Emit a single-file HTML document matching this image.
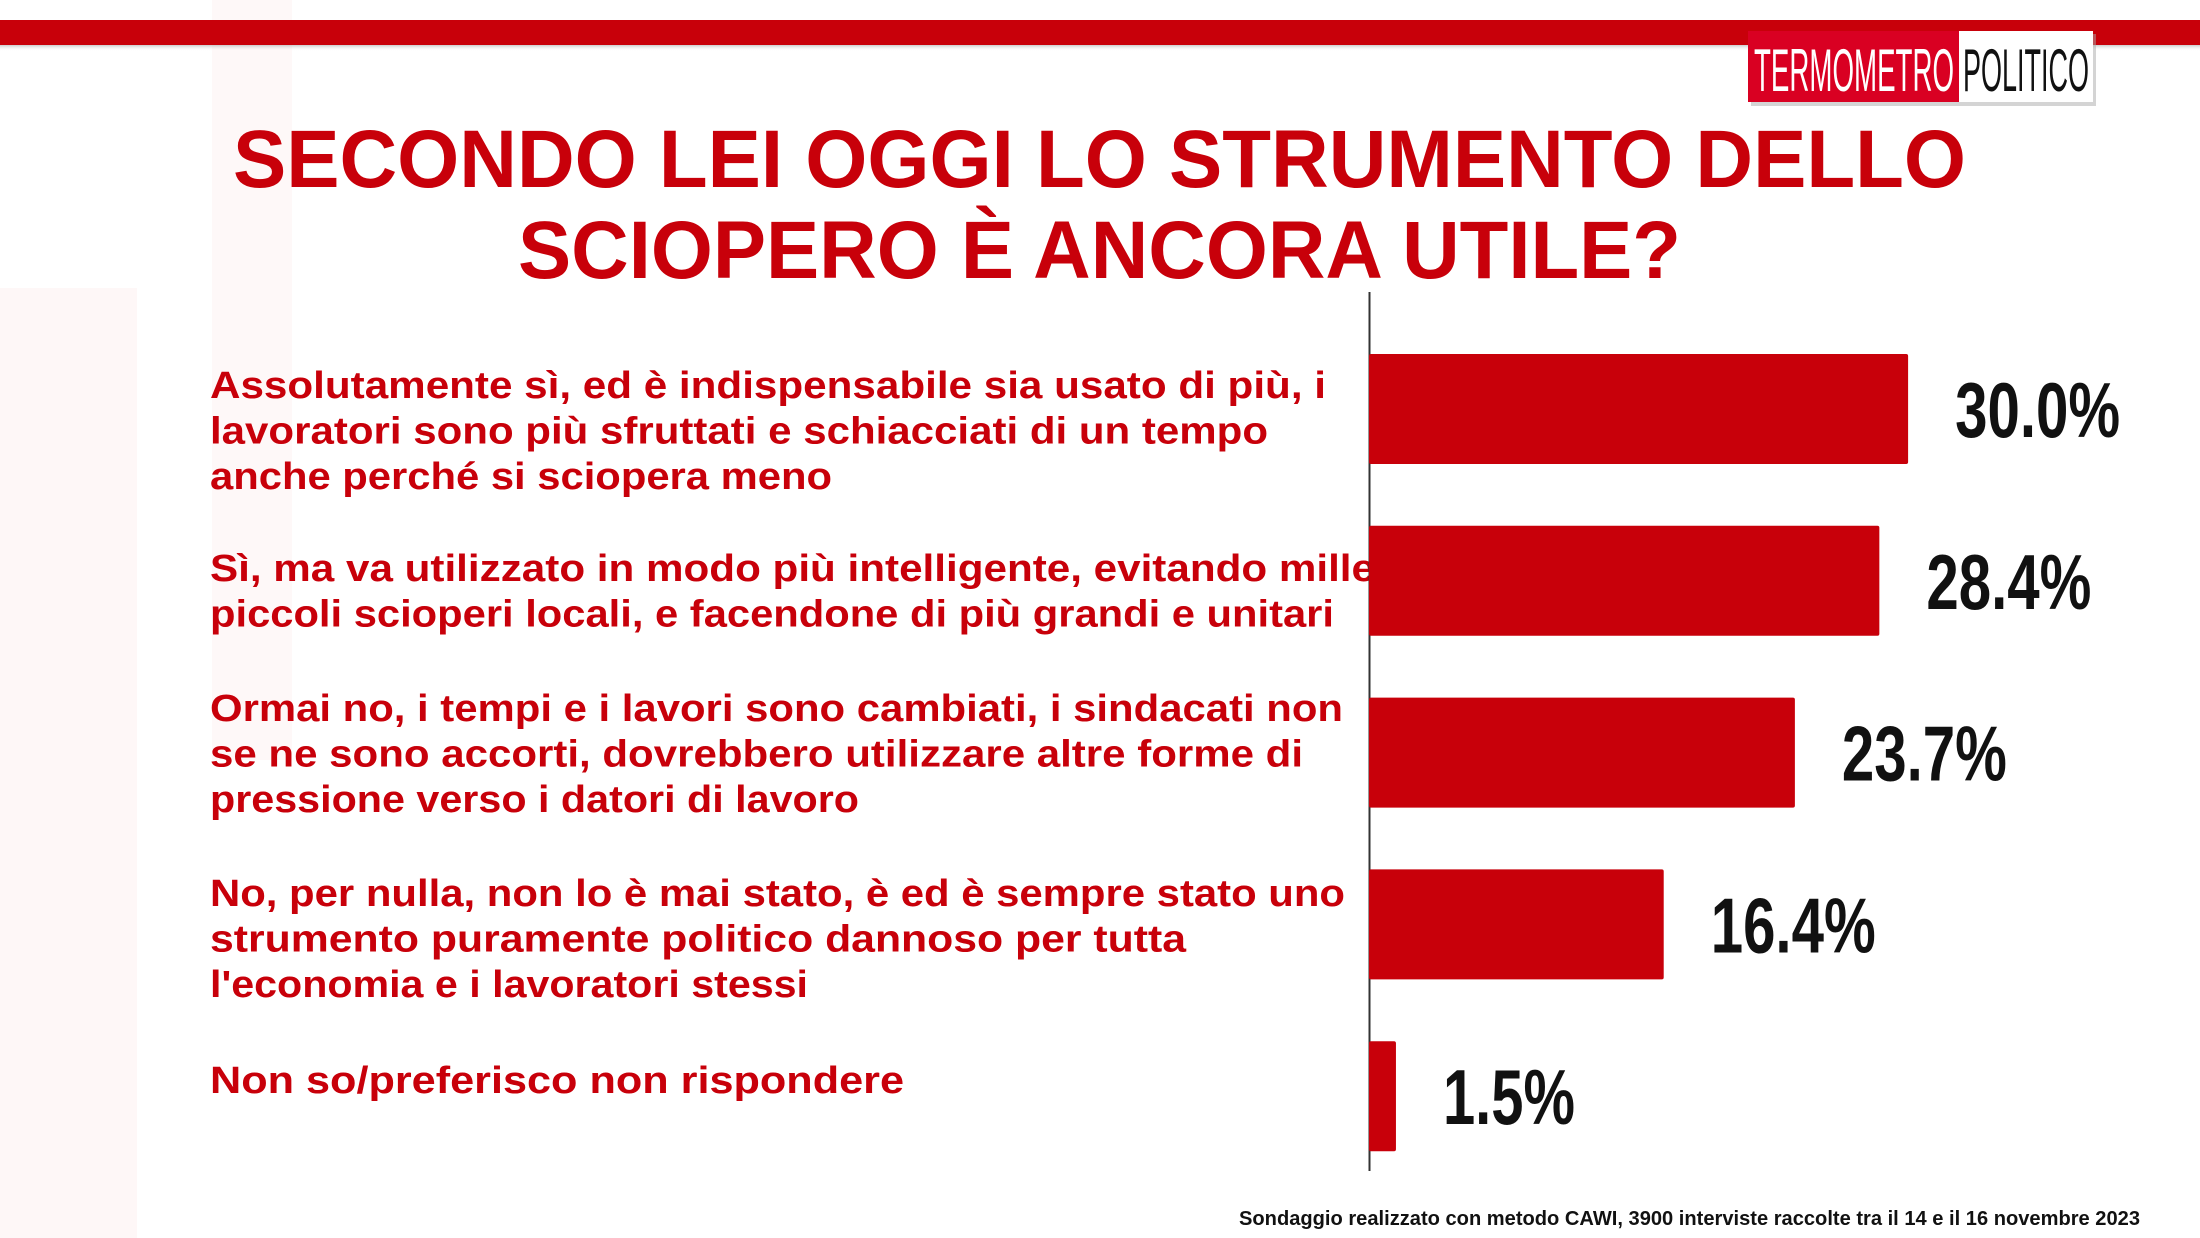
<!DOCTYPE html>
<html><head><meta charset="utf-8"><style>
html,body{margin:0;padding:0;background:#fff;}
svg{display:block;}
</style></head><body>
<svg id="chart" width="2200" height="1238" viewBox="0 0 2200 1238" xmlns="http://www.w3.org/2000/svg">
<defs>
<linearGradient id="sh" x1="0" y1="0" x2="0" y2="1"><stop offset="0" stop-color="#999" stop-opacity="0.5"/><stop offset="1" stop-color="#fff" stop-opacity="0"/></linearGradient>
</defs>
<rect x="0" y="0" width="2200" height="1238" fill="#fff"/>
<rect x="0" y="288" width="137" height="950" fill="#fef7f7"/>
<rect x="212" y="0" width="80" height="760" fill="#fef8f8"/>
<rect x="0" y="20" width="2200" height="25" fill="#c8000a"/>
<rect x="0" y="45" width="2200" height="6" fill="url(#sh)"/>
<g>
<rect x="1751" y="34" width="345" height="72" fill="#aaa" opacity="0.5"/>
<rect x="1748" y="31" width="211" height="71" fill="#d90022"/>
<rect x="1959" y="31" width="134" height="71" fill="#fff"/>
<text x="1754" y="91" font-family="Liberation Sans, sans-serif" font-size="60" fill="#fff" textLength="200" lengthAdjust="spacingAndGlyphs">TERMOMETRO</text>
<text x="1963" y="91" font-family="Liberation Sans, sans-serif" font-size="60" fill="#111" textLength="126" lengthAdjust="spacingAndGlyphs">POLITICO</text>
</g>
<g font-family="Liberation Sans, sans-serif" font-weight="bold" fill="#c8000a">
<text x="233" y="187" font-size="82" textLength="1733" lengthAdjust="spacingAndGlyphs">SECONDO LEI OGGI LO STRUMENTO DELLO</text>
<text x="518" y="278" font-size="82" textLength="1163" lengthAdjust="spacingAndGlyphs">SCIOPERO È ANCORA UTILE?</text>
</g>
<g id="labels" font-family="Liberation Sans, sans-serif" font-weight="bold" font-size="38" fill="#c8000a"></g>
<line x1="1369.5" y1="292" x2="1369.5" y2="1171" stroke="#333" stroke-width="2"/>
<g id="bars"></g>
<g id="values" font-family="Liberation Sans, sans-serif" font-weight="bold" font-size="78" fill="#111"></g>
<text x="2140" y="1225" text-anchor="end" font-family="Liberation Sans, sans-serif" font-weight="bold" font-size="20" fill="#111" textLength="901" lengthAdjust="spacingAndGlyphs">Sondaggio realizzato con metodo CAWI, 3900 interviste raccolte tra il 14 e il 16 novembre 2023</text>
</svg>
<script>
const categories = [
  ["Assolutamente sì, ed è indispensabile sia usato di più, i","lavoratori sono più sfruttati e schiacciati di un tempo","anche perché si sciopera meno"],
  ["Sì, ma va utilizzato in modo più intelligente, evitando mille","piccoli scioperi locali, e facendone di più grandi e unitari"],
  ["Ormai no, i tempi e i lavori sono cambiati, i sindacati non","se ne sono accorti, dovrebbero utilizzare altre forme di","pressione verso i datori di lavoro"],
  ["No, per nulla, non lo è mai stato, è ed è sempre stato uno","strumento puramente politico dannoso per tutta","l'economia e i lavoratori stessi"],
  ["Non so/preferisco non rispondere"]
];
const values = [30.0, 28.4, 23.7, 16.4, 1.5];
const valueLabels = ["30.0%", "28.4%", "23.7%", "16.4%", "1.5%"];
const lineWidths = [[1116,1058,622],[1165,1124],[1133,1093,649],[1135,976,598],[694]];

const NS = "http://www.w3.org/2000/svg";
const x0 = 1369, pxPerPct = 17.97;
const xScale = v => x0 + v * pxPerPct;
const barTop0 = 354, step = 171.8, barH = 110;
const yBand = i => barTop0 + i * step;
const labelFirstBase = [398, 581, 721, 906, 1093];

const bars = document.getElementById('bars');
const vals = document.getElementById('values');
const labs = document.getElementById('labels');
const lineGap = 45.6;
values.forEach((v, i) => {
  const y = yBand(i);
  const r = document.createElementNS(NS, 'rect');
  r.setAttribute('x', x0);
  r.setAttribute('y', y);
  r.setAttribute('width', xScale(v) - x0);
  r.setAttribute('height', barH);
  r.setAttribute('rx', 2);
  r.setAttribute('fill', '#c8000a');
  
  
  bars.appendChild(r);

  const t = document.createElementNS(NS, 'text');
  t.setAttribute('x', xScale(v) + 47);
  t.setAttribute('y', y + barH / 2 + 28);
  t.setAttribute('textLength', valueLabels[i].length * 33);
  t.setAttribute('lengthAdjust', 'spacingAndGlyphs');
  t.textContent = valueLabels[i];
  
  
  vals.appendChild(t);

  categories[i].forEach((ln, j) => {
    const tt = document.createElementNS(NS, 'text');
    tt.setAttribute('x', 210);
    tt.setAttribute('y', labelFirstBase[i] + j * lineGap);
    tt.setAttribute('textLength', lineWidths[i][j]);
    tt.setAttribute('lengthAdjust', 'spacingAndGlyphs');
    tt.textContent = ln;
    
    
    labs.appendChild(tt);
  });
});
</script>
</body></html>
